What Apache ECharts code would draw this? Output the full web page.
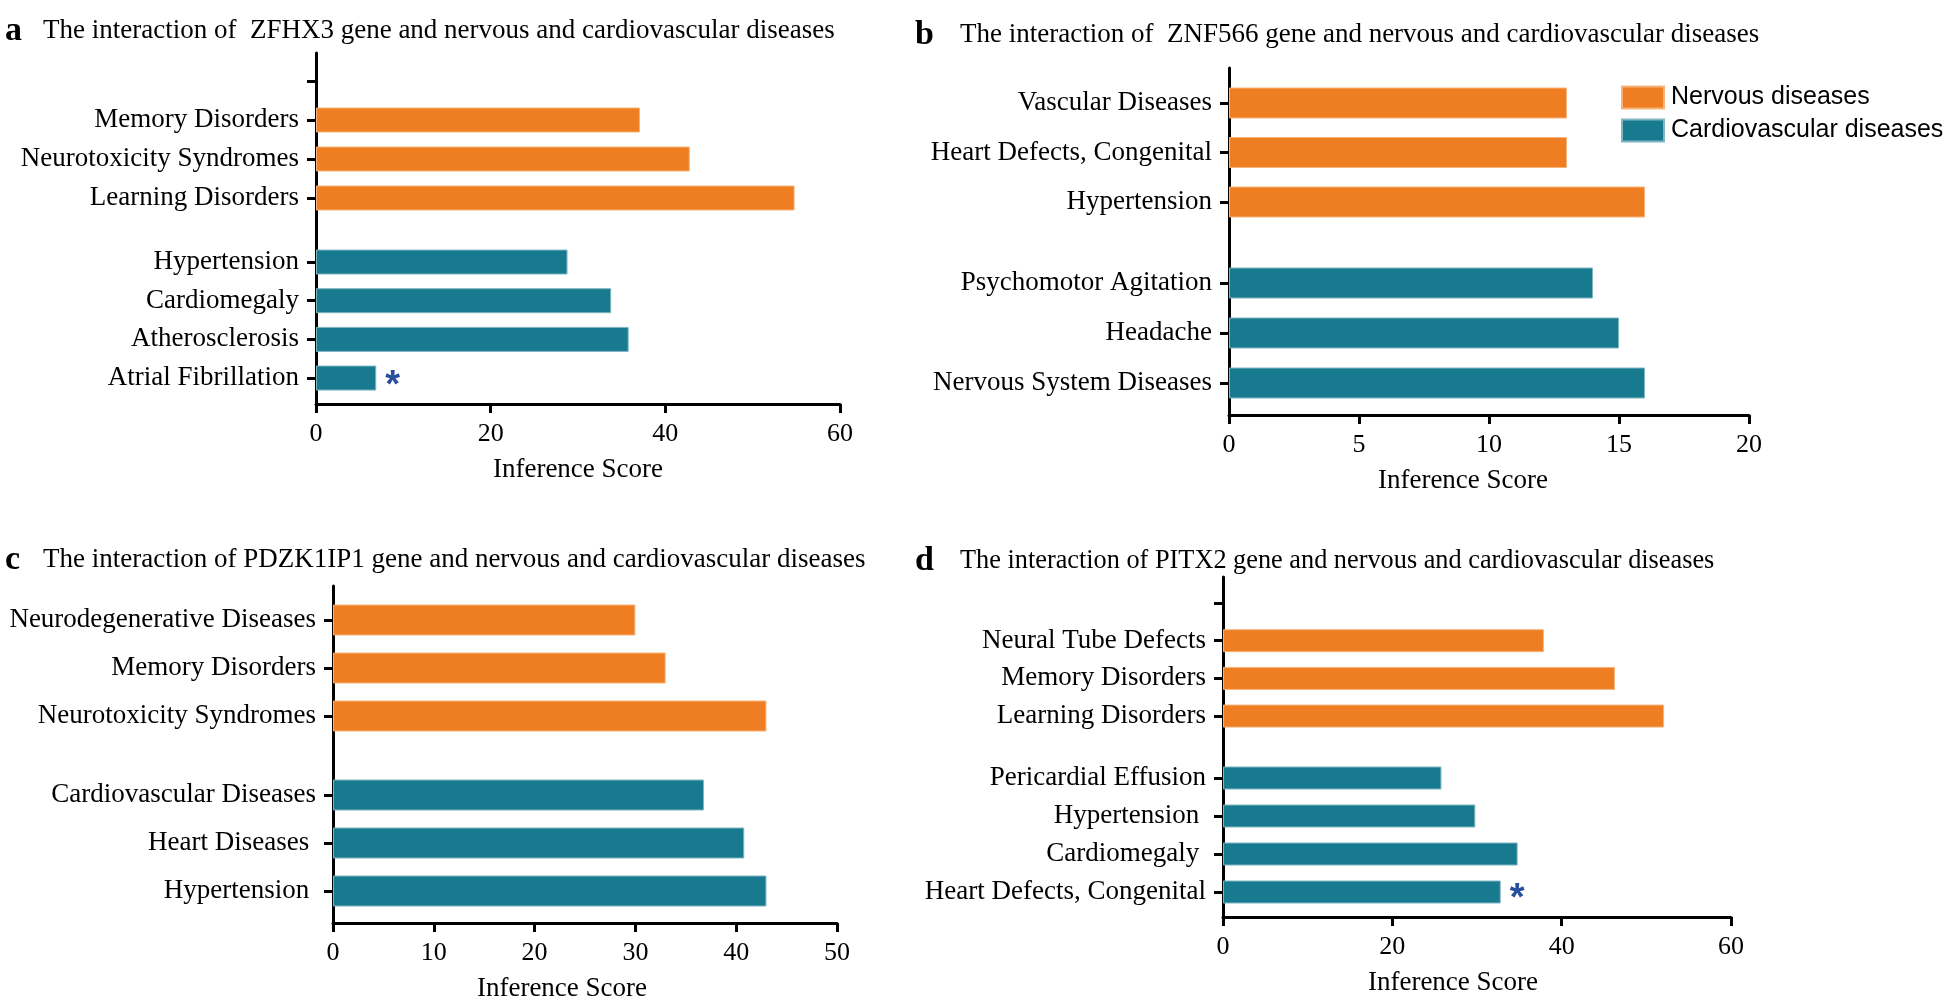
<!DOCTYPE html>
<html>
<head>
<meta charset="utf-8">
<script src="https://cdn.jsdelivr.net/npm/echarts@6/dist/echarts.min.js"></script>
<style>
html, body { margin: 0; padding: 0; background: #fff; }
#chart { width: 1948px; height: 1003px; }
</style>
</head>
<body>
<div id="chart"></div>
<script>
// a - ZFHX3
var aNervousCats = ['', 'Memory Disorders', 'Neurotoxicity Syndromes', 'Learning Disorders']
var aNervousVals = [null, 37.1, 42.8, 54.8]
var aCardioCats = ['Hypertension', 'Cardiomegaly', 'Atherosclerosis', 'Atrial Fibrillation']
var aCardioVals = [28.8, 33.8, 35.8, 6.9]
var aTicks = [0, 20, 40, 60]
var aStar = 'Atrial Fibrillation'

// b - ZNF566
var bNervousCats = ['Vascular Diseases', 'Heart Defects, Congenital', 'Hypertension']
var bNervousVals = [13, 13, 16]
var bCardioCats = ['Psychomotor Agitation', 'Headache', 'Nervous System Diseases']
var bCardioVals = [14, 15, 16]
var bTicks = [0, 5, 10, 15, 20]

// c - PDZK1IP1
var cNervousCats = ['Neurodegenerative Diseases', 'Memory Disorders', 'Neurotoxicity Syndromes']
var cNervousVals = [30, 33, 43]
var cCardioCats = ['Cardiovascular Diseases', 'Heart Diseases ', 'Hypertension ']
var cCardioVals = [36.8, 40.8, 43]
var cTicks = [0, 10, 20, 30, 40, 50]

// d - PITX2
var dNervousCats = ['', 'Neural Tube Defects', 'Memory Disorders', 'Learning Disorders']
var dNervousVals = [null, 37.9, 46.3, 52.1]
var dCardioCats = ['Pericardial Effusion', 'Hypertension ', 'Cardiomegaly ', 'Heart Defects, Congenital']
var dCardioVals = [25.8, 29.8, 34.8, 32.8]
var dTicks = [0, 20, 40, 60]
var dStar = 'Heart Defects, Congenital'

var legendNames = ['Nervous diseases', 'Cardiovascular diseases']

var ORANGE = '#EE7E21'
var TEAL = '#177A8F'
var serif = '"Liberation Serif", "Times New Roman", serif'
var sans = '"Liberation Sans", Arial, sans-serif'

var panels = [
  { letter: 'a', title: 'The interaction of  ZFHX3 gene and nervous and cardiovascular diseases',
    titleLeft: 0, titleTop: 9, letterW: 38, titleSize: 27,
    frame: { left: 316, top: 53, width: 524, height: 351 },
    upper: { top: 61.5, height: 156 }, lower: { top: 242.7, height: 154.7 },
    barWidth: 25, nameShift: 0,
    nCats: aNervousCats, nVals: aNervousVals, cCats: aCardioCats, cVals: aCardioVals, ticks: aTicks, star: aStar },
  { letter: 'b', title: 'The interaction of  ZNF566 gene and nervous and cardiovascular diseases',
    titleLeft: 910, titleTop: 13, letterW: 45, titleSize: 27,
    frame: { left: 1229, top: 68, width: 520, height: 347 },
    upper: { top: 78.25, height: 148.5 }, lower: { top: 258, height: 150 },
    barWidth: 31, nameShift: 26,
    nCats: bNervousCats, nVals: bNervousVals, cCats: bCardioCats, cVals: bCardioVals, ticks: bTicks, star: null },
  { letter: 'c', title: 'The interaction of PDZK1IP1 gene and nervous and cardiovascular diseases',
    titleLeft: 0, titleTop: 538, letterW: 38, titleSize: 27,
    frame: { left: 333, top: 586, width: 504, height: 337 },
    upper: { top: 596, height: 144 }, lower: { top: 771, height: 144 },
    barWidth: 31, nameShift: 23,
    nCats: cNervousCats, nVals: cNervousVals, cCats: cCardioCats, cVals: cCardioVals, ticks: cTicks, star: null },
  { letter: 'd', title: 'The interaction of PITX2 gene and nervous and cardiovascular diseases',
    titleLeft: 910, titleTop: 539, letterW: 45, titleSize: 26.3,
    frame: { left: 1223, top: 577, width: 508, height: 340 },
    upper: { top: 584.2, height: 150.7 }, lower: { top: 759, height: 152 },
    barWidth: 23, nameShift: 24,
    nCats: dNervousCats, nVals: dNervousVals, cCats: dCardioCats, cVals: dCardioVals, ticks: dTicks, star: dStar }
]

var option = {
  animation: false,
  backgroundColor: '#fff',
  title: [],
  grid: [],
  xAxis: [],
  yAxis: [],
  series: [],
  legend: {
    data: legendNames,
    orient: 'vertical',
    left: 1621,
    top: 85,
    padding: 0,
    itemWidth: 42,
    itemHeight: 22,
    itemGap: 8,
    icon: 'rect',
    selectedMode: false,
    textStyle: { fontFamily: sans, fontSize: 25, color: '#000', padding: [0, 0, 0, 2] }
  }
}

function barData (cats, vals, star) {
  return vals.map(function (v, i) {
    return {
      value: v,
      label: {
        show: star !== null && cats[i] === star,
        formatter: '*',
        position: 'right',
        distance: 9,
        offset: [0, 8],
        color: '#2A4E9E',
        fontFamily: sans,
        fontWeight: 'bold',
        fontSize: 38
      }
    }
  })
}

panels.forEach(function (p) {
  var max = p.ticks[p.ticks.length - 1]
  var step = p.ticks[1] - p.ticks[0]
  var g = option.grid.length

  option.title.push({
    left: p.titleLeft,
    top: p.titleTop,
    text: '{l|' + p.letter + '}{t|' + p.title + '}',
    textStyle: {
      fontWeight: 'normal',
      rich: {
        l: { fontFamily: serif, fontWeight: 'bold', fontSize: 34, color: '#000', width: p.letterW },
        t: { fontFamily: serif, fontWeight: 'normal', fontSize: p.titleSize, color: '#000' }
      }
    }
  })

  // frame: x axis + y axis line
  option.grid.push(Object.assign({ containLabel: false }, p.frame))
  option.xAxis.push({
    gridIndex: g, type: 'value', min: p.ticks[0], max: max, interval: step,
    name: 'Inference Score', nameLocation: 'middle', nameGap: 52,
    nameTextStyle: { fontFamily: serif, fontSize: 27, color: '#000', padding: [0, p.nameShift * 2, 0, 0] },
    axisLine: { show: true, lineStyle: { color: '#000', width: 3 } },
    axisTick: { show: true, length: 9, lineStyle: { color: '#000', width: 3 } },
    axisLabel: { fontFamily: serif, fontSize: 26, color: '#000', margin: 17 },
    splitLine: { show: false }
  })
  option.yAxis.push({
    gridIndex: g, type: 'value', min: 0, max: 1,
    axisLine: { show: true, lineStyle: { color: '#000', width: 3 } },
    axisTick: { show: false }, axisLabel: { show: false }, splitLine: { show: false }
  })

  var groups = [
    { box: p.upper, cats: p.nCats, vals: p.nVals, color: ORANGE, border: '#F6B47C', name: legendNames[0] },
    { box: p.lower, cats: p.cCats, vals: p.cVals, color: TEAL, border: '#7FB6C2', name: legendNames[1] }
  ]
  groups.forEach(function (grp) {
    var gi = option.grid.length
    option.grid.push({ left: p.frame.left, width: p.frame.width, top: grp.box.top, height: grp.box.height })
    option.xAxis.push({ gridIndex: gi, type: 'value', min: 0, max: max, show: false })
    option.yAxis.push({
      gridIndex: gi, type: 'category', inverse: true, data: grp.cats,
      axisLine: { show: false },
      axisTick: { show: true, alignWithLabel: true, length: 9, lineStyle: { color: '#000', width: 3 } },
      axisLabel: { fontFamily: serif, fontSize: 27, color: '#000', margin: 17 },
      splitLine: { show: false }
    })
    option.series.push({
      type: 'bar', name: grp.name, xAxisIndex: gi, yAxisIndex: gi,
      barWidth: p.barWidth,
      itemStyle: { color: grp.color, borderColor: grp.border, borderWidth: 1 },
      data: barData(grp.cats, grp.vals, grp.box === p.lower ? p.star : null)
    })
  })
})

var chart = echarts.init(document.getElementById('chart'))
chart.setOption(option)
</script>
</body>
</html>
